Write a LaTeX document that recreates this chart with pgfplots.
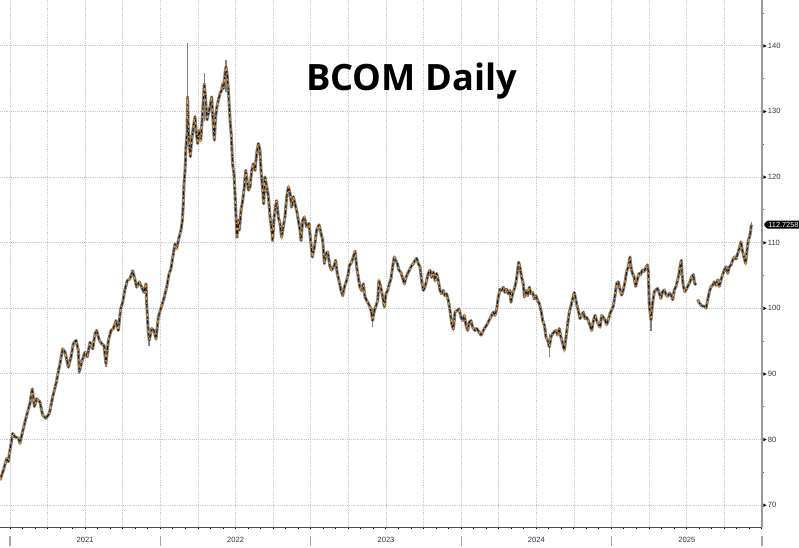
\documentclass[border=0pt]{standalone}
\usepackage{fontspec}
\setmainfont{Liberation Sans}
\newfontfamily\titlefont{Open Sans}
\usepackage{pgfplots}
\usepackage{pgfplotstable}
\pgfplotsset{compat=1.18}
\usetikzlibrary{shapes.symbols}

\pgfplotstableread{
x c
2020.934 73.8
2020.956 75.3
2020.978 77.1
2020.989 76.6
2021.000 78.4
2021.018 80.9
2021.033 80.4
2021.055 80.2
2021.066 79.4
2021.084 81.2
2021.111 83.7
2021.133 85.5
2021.148 87.7
2021.162 85.0
2021.177 86.2
2021.199 85.7
2021.217 83.7
2021.239 83.2
2021.262 84.0
2021.284 86.5
2021.306 88.5
2021.321 90.3
2021.332 91.5
2021.350 93.8
2021.366 93.3
2021.388 91.0
2021.406 92.6
2021.421 94.6
2021.439 95.1
2021.454 93.6
2021.461 90.3
2021.477 91.8
2021.499 93.3
2021.514 92.6
2021.532 94.8
2021.550 93.8
2021.565 96.1
2021.576 96.6
2021.594 95.1
2021.609 94.6
2021.625 94.3
2021.638 91.5
2021.654 95.1
2021.672 96.6
2021.687 96.9
2021.705 98.1
2021.720 96.6
2021.736 99.9
2021.749 100.9
2021.765 102.9
2021.780 104.2
2021.798 104.5
2021.816 105.7
2021.824 105.0
2021.842 103.2
2021.860 104.0
2021.875 103.2
2021.891 102.4
2021.904 103.7
2021.909 100.7
2021.920 96.1
2021.926 95.1
2021.942 96.9
2021.957 96.6
2021.971 95.3
2021.986 98.6
2022.002 99.9
2022.020 101.2
2022.042 103.2
2022.057 105.2
2022.070 106.0
2022.086 108.3
2022.097 109.8
2022.108 109.1
2022.124 110.8
2022.137 111.9
2022.146 113.4
2022.152 115.9
2022.157 119.0
2022.164 121.0
2022.170 124.6
2022.177 126.6
2022.181 132.2
2022.186 127.1
2022.192 125.1
2022.199 123.1
2022.208 125.6
2022.219 127.6
2022.230 129.2
2022.239 126.6
2022.248 125.1
2022.257 127.1
2022.268 125.6
2022.279 129.2
2022.292 134.2
2022.301 131.7
2022.310 128.7
2022.319 129.7
2022.330 130.7
2022.341 132.2
2022.352 127.6
2022.359 125.6
2022.367 129.2
2022.376 130.7
2022.385 131.7
2022.396 132.7
2022.407 133.2
2022.414 134.2
2022.421 133.5
2022.430 135.8
2022.436 136.8
2022.443 135.8
2022.452 133.2
2022.458 130.7
2022.465 128.1
2022.472 126.1
2022.480 122.0
2022.489 120.5
2022.496 117.5
2022.503 113.9
2022.509 110.8
2022.518 113.4
2022.525 111.9
2022.536 114.9
2022.547 116.4
2022.558 118.5
2022.567 121.0
2022.576 119.5
2022.585 118.0
2022.596 118.5
2022.607 121.0
2022.618 122.0
2022.629 121.0
2022.640 123.6
2022.651 125.1
2022.662 124.1
2022.669 121.0
2022.678 118.5
2022.687 115.9
2022.695 120.0
2022.707 118.5
2022.718 117.0
2022.729 113.9
2022.740 111.9
2022.746 110.3
2022.758 114.4
2022.773 116.4
2022.784 113.9
2022.795 112.9
2022.806 110.8
2022.817 112.4
2022.828 113.9
2022.840 117.0
2022.851 118.5
2022.862 117.5
2022.873 115.4
2022.884 117.0
2022.895 115.9
2022.906 114.9
2022.917 113.4
2022.928 111.9
2022.935 110.3
2022.946 113.4
2022.957 113.9
2022.972 112.4
2022.988 112.9
2023.001 109.8
2023.010 107.8
2023.024 109.3
2023.039 111.9
2023.055 112.7
2023.068 111.4
2023.079 110.4
2023.090 106.8
2023.101 108.3
2023.112 108.6
2023.128 106.3
2023.139 105.8
2023.156 106.5
2023.165 107.3
2023.176 105.3
2023.187 104.2
2023.201 102.7
2023.212 101.9
2023.223 103.2
2023.238 104.2
2023.250 105.3
2023.256 106.5
2023.267 106.8
2023.283 107.8
2023.294 108.7
2023.305 106.3
2023.316 104.7
2023.327 103.2
2023.338 102.7
2023.349 103.7
2023.360 101.7
2023.371 101.2
2023.383 100.7
2023.394 100.2
2023.405 99.1
2023.411 98.1
2023.422 99.6
2023.434 100.4
2023.445 101.2
2023.453 104.2
2023.465 103.2
2023.478 101.7
2023.489 100.2
2023.500 102.2
2023.511 102.7
2023.522 103.7
2023.533 104.5
2023.544 106.3
2023.555 107.8
2023.564 107.3
2023.575 106.8
2023.586 105.8
2023.598 105.5
2023.609 104.7
2023.622 103.7
2023.633 104.7
2023.644 105.3
2023.660 106.0
2023.671 106.5
2023.682 106.8
2023.693 107.3
2023.704 107.6
2023.715 106.8
2023.726 106.3
2023.737 104.2
2023.748 102.7
2023.759 103.2
2023.770 104.2
2023.781 105.3
2023.793 105.8
2023.804 104.7
2023.815 105.5
2023.826 104.2
2023.837 105.3
2023.848 104.2
2023.859 102.7
2023.870 102.2
2023.881 102.7
2023.892 101.9
2023.903 102.2
2023.914 101.2
2023.926 99.6
2023.937 97.6
2023.948 96.8
2023.959 99.4
2023.970 99.6
2023.985 99.9
2023.999 98.6
2024.010 98.1
2024.021 98.9
2024.032 97.4
2024.043 96.6
2024.054 97.9
2024.065 98.1
2024.076 97.1
2024.092 96.6
2024.103 96.9
2024.118 96.4
2024.132 95.9
2024.143 96.4
2024.154 96.9
2024.169 97.4
2024.180 97.9
2024.191 98.4
2024.203 98.9
2024.214 99.4
2024.225 98.9
2024.236 99.9
2024.247 101.7
2024.258 102.9
2024.269 102.7
2024.280 103.2
2024.291 102.4
2024.302 102.9
2024.313 102.2
2024.324 102.7
2024.331 100.9
2024.342 102.2
2024.353 102.9
2024.364 103.9
2024.375 105.7
2024.382 107.0
2024.391 106.2
2024.402 104.7
2024.413 103.7
2024.420 101.7
2024.431 102.7
2024.442 101.9
2024.453 103.2
2024.464 102.2
2024.475 102.4
2024.486 101.4
2024.497 101.9
2024.508 101.2
2024.519 100.7
2024.531 99.6
2024.542 98.1
2024.553 97.4
2024.564 95.6
2024.575 95.1
2024.586 94.1
2024.597 95.6
2024.608 96.1
2024.619 96.4
2024.630 96.6
2024.641 95.9
2024.652 96.9
2024.663 95.6
2024.675 94.6
2024.686 93.6
2024.697 95.6
2024.708 97.6
2024.719 99.4
2024.730 100.4
2024.741 101.4
2024.752 102.4
2024.761 101.4
2024.770 100.4
2024.779 99.6
2024.790 98.4
2024.801 98.9
2024.812 99.4
2024.823 98.4
2024.834 98.6
2024.845 98.1
2024.856 97.4
2024.868 96.6
2024.879 98.1
2024.890 98.9
2024.901 98.1
2024.912 97.6
2024.923 97.1
2024.934 98.9
2024.945 98.6
2024.956 98.2
2024.967 97.5
2024.978 98.2
2024.989 99.2
2025.000 99.7
2025.011 100.3
2025.023 102.0
2025.034 103.8
2025.045 104.0
2025.056 102.8
2025.067 102.0
2025.078 102.8
2025.089 104.0
2025.100 105.6
2025.111 106.3
2025.122 107.8
2025.129 106.3
2025.138 105.3
2025.149 104.8
2025.160 103.3
2025.171 104.3
2025.182 105.3
2025.193 105.1
2025.204 105.8
2025.215 105.6
2025.226 106.1
2025.238 106.6
2025.244 105.6
2025.251 100.3
2025.262 98.2
2025.273 100.8
2025.284 102.5
2025.295 102.8
2025.306 103.0
2025.317 102.3
2025.328 101.5
2025.339 102.5
2025.351 102.8
2025.362 102.0
2025.373 101.8
2025.384 102.3
2025.395 102.0
2025.406 101.3
2025.417 102.8
2025.428 103.3
2025.439 104.3
2025.448 105.3
2025.457 106.6
2025.464 107.3
2025.468 105.3
2025.477 103.3
2025.488 102.5
2025.499 103.0
2025.510 103.5
2025.521 104.0
2025.532 104.8
2025.544 105.1
2025.550 104.0
2025.559 103.5
nan nan
2025.572 101.3
2025.583 100.8
2025.594 100.5
2025.605 100.3
2025.616 100.3
2025.628 100.0
2025.639 101.3
2025.650 102.5
2025.661 103.3
2025.672 103.5
2025.683 104.0
2025.694 103.5
2025.705 104.3
2025.716 103.3
2025.727 104.3
2025.738 105.1
2025.749 105.8
2025.761 106.3
2025.772 105.3
2025.783 106.3
2025.794 106.6
2025.805 107.3
2025.816 107.8
2025.827 107.5
2025.838 108.3
2025.849 109.1
2025.860 110.1
2025.869 108.8
2025.880 107.8
2025.891 106.8
2025.900 108.8
2025.909 110.4
2025.918 110.9
2025.925 111.9
2025.929 112.7258
}\bcom

% notable high-low wicks (low and high of single sessions)
\pgfplotstableread{
x y
2021.461 90.0
2021.461 93.5
nan nan
2021.638 91.0
2021.638 94.2
nan nan
2021.926 94.3
2021.926 97.0
nan nan
2022.157 115.5
2022.157 120.5
nan nan
2022.181 126.0
2022.181 140.4
nan nan
2022.292 128.5
2022.292 135.8
nan nan
2022.436 133.0
2022.436 137.8
nan nan
2023.411 97.1
2023.411 100.0
nan nan
2024.586 92.6
2024.586 96.0
nan nan
2025.262 96.5
2025.262 100.5
nan nan
2025.929 111.5
2025.929 113.2
}\wicks

\definecolor{bbgorange}{HTML}{F7941D}
\definecolor{gridc}{HTML}{C8C8C8}
\definecolor{tickc}{HTML}{333344}

\begin{document}
\begin{tikzpicture}
\begin{axis}[
  at={(0pt,0pt)}, anchor=south west,
  scale only axis,
  width=571.5pt, height=395.25pt,
  xmin=2020.9335, xmax=2026.0,
  ymin=66.65, ymax=146.97,
  clip=false,
  unbounded coords=jump,
  axis x line=bottom, axis y line=right,
  every outer x axis line/.append style={-, draw=black!70, line width=0.75pt},
  every outer y axis line/.append style={-, draw=black!40, line width=1.5pt},
  xtick={2021,2021.25,...,2026},
  xticklabels={},
  minor xtick={2021,2021.08333,...,2026},
  ytick={70,80,...,140},
  minor ytick={75,85,...,145},
  major tick length=0pt,
  minor tick length=1.8pt,
  tick align=outside,
  minor x tick style={black, line width=0.6pt},
  minor y tick style={black!60, line width=0.6pt},
  grid=major,
  major grid style={gridc, densely dotted, line width=0.5pt},
  /pgf/number format/assume math mode=true,
  tick label style={font=\fontsize{5.7pt}{6.5pt}\selectfont, text=tickc},
  yticklabel={\tikz[baseline=-0.6ex]\fill[black] (0,-1.3pt)--(0,1.3pt)--(2.4pt,0)--cycle;\,\pgfmathprintnumber{\tick}},
  yticklabel style={anchor=west, xshift=-2.5pt},
  extra x ticks={2021.5,2022.5,2023.5,2024.5,2025.5},
  extra x tick labels={2021,2022,2023,2024,2025},
  extra x tick style={grid=none, major tick length=0pt,
     xticklabel style={anchor=center, yshift=-10pt}},
]
\addplot[draw=black!50, line width=1.2pt] table[x=x,y=y] {\wicks};
\addplot[draw=black!48, line width=2.3pt, line join=round] table[x=x,y=c] {\bcom};
\addplot[draw=black!90, line width=0.8pt, line join=round] table[x=x,y=c] {\bcom};
\addplot[draw=bbgorange, line width=0.8pt, dash pattern=on 2.4pt off 1.8pt on 0.9pt off 3.2pt on 1.6pt off 2.6pt] table[x=x,y=c] {\bcom};
\node[font=\titlefont\bfseries\fontsize{27.2pt}{30pt}\selectfont] at (axis cs:2023.67,134.6) {BCOM Daily};
\node[signal, signal to=west, signal pointer angle=100, fill=black, text=white, rounded corners=0.8pt,
  inner xsep=1.0pt, inner ysep=1.1pt, anchor=west,
  font=\fontsize{5.5pt}{6pt}\selectfont] at ([xshift=1pt]axis cs:2026,112.7258) {112.7258};
\end{axis}
\foreach \k in {0,...,5} {
  \pgfmathsetmacro{\sx}{7.5+112.8*\k}
  \draw[black!35, line width=0.8pt] (\sx pt,-7pt) -- (\sx pt,-14.5pt);
}
\pgfresetboundingbox
\path[use as bounding box] (0pt,-15pt) rectangle (599.25pt,395.25pt);
\end{tikzpicture}
\end{document}
